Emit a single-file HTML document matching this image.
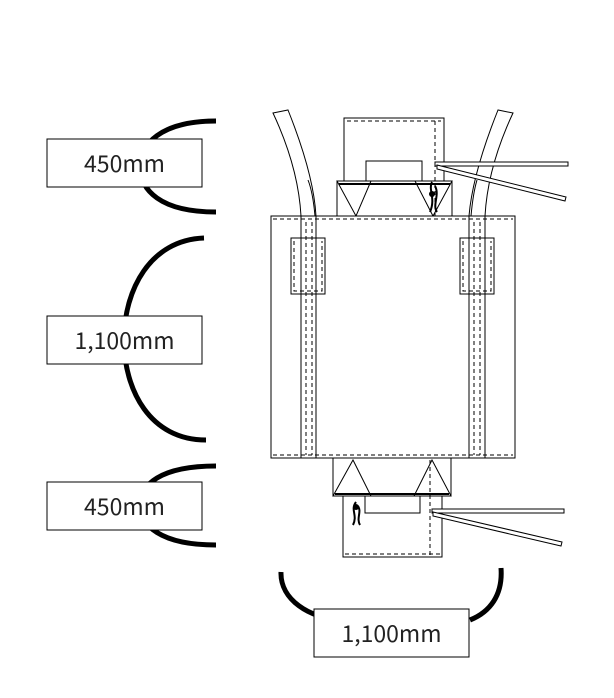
<!DOCTYPE html>
<html><head><style>
html,body{margin:0;padding:0;background:#fff;}
svg{display:block;}
text{font-family:"Noto Sans CJK JP","Liberation Sans",sans-serif;font-size:23px;fill:#222;}
</style></head><body>
<svg width="614" height="698" viewBox="0 0 614 698" xmlns="http://www.w3.org/2000/svg">
<g fill="none" stroke="#000" stroke-width="5">
<path d="M216 121 C160 121 140 145 140 166 C140 190 160 212 216 212"/>
<path d="M204 238 C150 240 124 290 124 340 C124 390 150 440 206 440"/>
<path d="M216 466 C160 466 140 485 140 505 C140 525 160 545 216 545"/>
<path d="M281 572 C280 600 310 618 340 620 M470 620 C490 612 503 595 501 568"/>
</g>
<g fill="#fff" stroke="#000" stroke-width="1">
<rect x="47" y="139" width="155" height="48"/>
<rect x="47" y="316" width="155" height="48"/>
<rect x="47" y="482" width="155" height="48"/>
<rect x="314" y="609" width="155" height="48"/>
</g>
<text x="124.5" y="172" text-anchor="middle">450mm</text>
<text x="124.5" y="349" text-anchor="middle">1,100mm</text>
<text x="124.5" y="515" text-anchor="middle">450mm</text>
<text x="391.5" y="642" text-anchor="middle">1,100mm</text>

<g fill="#fff" stroke="#000" stroke-width="1">
<rect x="344" y="118" width="100" height="98"/>
<rect x="366" y="161" width="56" height="20"/>
<path d="M273 113 L288 110 C300 140 314 180 316 216 L301 216 C299 180 288 145 273 113 Z"/>
<path d="M513 113 L498 110 C486 140 472 180 469 216 L485 216 C487 180 498 145 513 113 Z"/>
<path d="M308 180 C312 190 314 205 315 216"/>
<path d="M477 180 C474 190 472 205 471 216"/>
<rect x="435" y="162" width="133" height="4"/>
<path d="M437 165 L566 197 L565 201 L437 169 Z"/>
<path d="M337 181 L452 181 L452 216 L337 216 Z"/>
<path d="M337 181 L371 181 L356 216 Z"/>
<path d="M415 181 L452 181 L433 216 Z"/>
<rect x="271" y="216" width="244" height="242"/>
<rect x="301" y="216" width="15" height="242"/>
<rect x="469" y="216" width="16" height="242"/>
<rect x="291" y="238" width="34" height="56"/>
<rect x="460" y="238" width="34" height="56"/>
<rect x="301" y="238" width="15" height="56"/>
<rect x="469" y="238" width="16" height="56"/>
<rect x="333" y="458" width="118" height="38"/>
<rect x="343" y="496" width="99" height="61"/>
<rect x="365" y="496" width="55" height="17"/>
<path d="M333 496 L353 460 L371 496 Z"/>
<path d="M414 496 L432 460 L451 496 Z"/>
<rect x="432" y="509" width="132" height="4"/>
<path d="M433 512 L562 542 L561 546 L433 516 Z"/>
</g>
<g fill="none" stroke="#000" stroke-width="1" stroke-dasharray="4 3">
<path d="M347 121 L441 121 M435 121 L435 216"/>
<path d="M273 219 L513 219 M273 455 L513 455"/>
<path d="M306 222 L306 455 M312 222 L312 455 M474 222 L474 455 M480 222 L480 455"/>
<path d="M294 241 L294 291 L322 291 L322 241 M463 241 L463 291 L491 291 L491 241"/>
<path d="M430 460 L430 555 M345 554 L440 554"/>
</g>
<g stroke="#000" stroke-width="2" fill="none">
<path d="M339 184 L450 184 M335 494 L449 494"/>
<path d="M432 182 C428 190 436 198 430 212 M435 186 C440 195 432 205 437 212"/>
<path d="M356 502 C350 510 358 515 353 525 M358 506 C362 512 356 518 360 525"/>
</g>
<circle cx="432" cy="194" r="3"/>
<circle cx="356" cy="507" r="3"/>
</svg>
</body></html>
